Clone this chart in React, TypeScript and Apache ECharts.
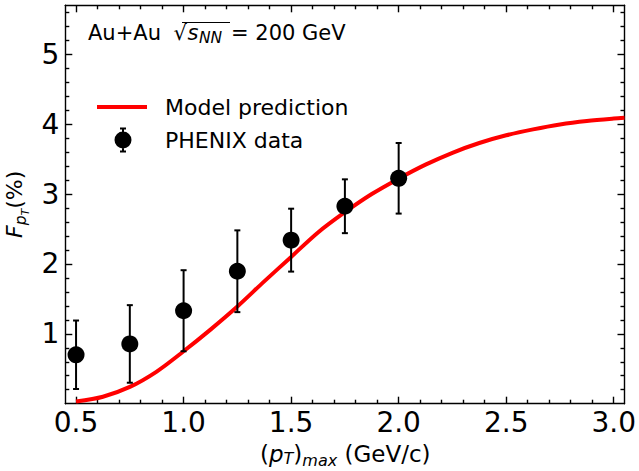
import React, { useEffect, useRef } from 'react';
import * as echarts from 'echarts';

// PHENIX data points
const dataX = [0.5, 0.75, 1.0, 1.25, 1.5, 1.75, 2.0];
const dataY = [0.70, 0.855, 1.33, 1.895, 2.34, 2.825, 3.225];
const dataErr = [0.49, 0.555, 0.58, 0.585, 0.45, 0.385, 0.505];

// Model prediction curve
const modelX = [0.5, 0.625, 0.75, 0.875, 1.0, 1.125, 1.25, 1.375, 1.5, 1.625, 1.75, 1.875, 2.0, 2.125, 2.25, 2.375, 2.5, 2.625, 2.75, 2.875, 3.0, 3.05];
const modelY = [0.03, 0.10, 0.24, 0.46, 0.75, 1.06, 1.39, 1.75, 2.10, 2.45, 2.74, 3.00, 3.22, 3.42, 3.59, 3.73, 3.84, 3.925, 3.995, 4.045, 4.08, 4.09];

// Ticks
const xMajorTicks = [0.5, 1.0, 1.5, 2.0, 2.5, 3.0];
const xMinorTicks = [0.6, 0.7, 0.8, 0.9, 1.1, 1.2, 1.3, 1.4, 1.6, 1.7, 1.8, 1.9, 2.1, 2.2, 2.3, 2.4, 2.6, 2.7, 2.8, 2.9];
const yMajorTicks = [1, 2, 3, 4, 5];
const yMinorTicks = [0.2, 0.4, 0.6, 0.8, 1.2, 1.4, 1.6, 1.8, 2.2, 2.4, 2.6, 2.8, 3.2, 3.4, 3.6, 3.8, 4.2, 4.4, 4.6, 4.8, 5.2, 5.4, 5.6];

const X_MIN = 0.45, X_MAX = 3.05, Y_MIN = 0, Y_MAX = 5.7;

export default function App() {
  const ref = useRef<HTMLDivElement>(null);
  useEffect(() => {
    const el = ref.current!;
    const chart = echarts.init(el, null, { renderer: 'svg' });
    const FAM = 'DejaVu Sans';
    const cv = document.createElement('canvas').getContext('2d')!;
    const meas = (t: string, size: number, italic?: boolean) => {
      cv.font = `${italic ? 'italic ' : ''}${size}px "${FAM}"`;
      return cv.measureText(t).width;
    };
    const CENTRAL = 0.346;
    const txt = (t: string, x: number, base: number, size: number, italic = false) => ({
      type: 'text', x, y: base - CENTRAL * size, silent: true,
      style: { text: t, fontSize: size, fontFamily: FAM, fontStyle: italic ? 'italic' : 'normal', fill: '#000', align: 'left', verticalAlign: 'middle' },
    });
    type P = { t: string; size: number; base: number; italic?: boolean; after?: number };
    const chain = (pieces: P[], x0: number) => {
      let x = x0;
      const out: any[] = [];
      for (const p of pieces) {
        out.push(txt(p.t, x, p.base, p.size, p.italic));
        x += meas(p.t, p.size, p.italic) + (p.after || 0);
      }
      return out;
    };

    const axisLineStyle = { color: '#000', width: 1.4 };
    const mkX = (pos: string, major: boolean, labels: boolean) => ({
      type: 'value', gridIndex: 0, position: pos, min: X_MIN, max: X_MAX,
      axisLine: { show: major, onZero: false, lineStyle: axisLineStyle },
      axisTick: { show: true, inside: true, length: major ? 7 : 4, customValues: major ? xMajorTicks : xMinorTicks, lineStyle: axisLineStyle },
      axisLabel: labels
        ? { show: true, customValues: xMajorTicks, formatter: (v: number) => v.toFixed(1), fontSize: 28, fontFamily: FAM, color: '#000', margin: 5 }
        : { show: false },
      splitLine: { show: false },
    });
    const mkY = (pos: string, major: boolean, labels: boolean) => ({
      type: 'value', gridIndex: 0, position: pos, min: Y_MIN, max: Y_MAX,
      axisLine: { show: major, onZero: false, lineStyle: axisLineStyle },
      axisTick: { show: true, inside: true, length: major ? 7 : 4, customValues: major ? yMajorTicks : yMinorTicks, lineStyle: axisLineStyle },
      axisLabel: labels
        ? { show: true, customValues: yMajorTicks, formatter: (v: number) => String(Math.round(v)), fontSize: 28, fontFamily: FAM, color: '#000', margin: 6 }
        : { show: false },
      splitLine: { show: false },
    });

    const titleEls = [
      txt('Au+Au', 88, 40, 21),
      txt('\u221A', 173.5, 40, 21),
      { type: 'line', silent: true, shape: { x1: 182, y1: 22.5, x2: 230, y2: 22.5 }, style: { stroke: '#000', lineWidth: 1.2 } },
      ...chain([
        { t: 's', size: 21, base: 40, italic: true, after: 0.5 },
        { t: 'NN', size: 15.5, base: 43.3, italic: true },
      ], 187.5),
      txt('= 200 GeV', 231, 40, 21),
    ];

    const xLabelEls = chain([
      { t: '(', size: 23, base: 461.7 },
      { t: 'p', size: 23, base: 461.7, italic: true },
      { t: 'T', size: 16, base: 464, italic: true },
      { t: ')', size: 23, base: 461.7 },
      { t: 'max', size: 16, base: 466, italic: true },
      { t: ' (GeV/c)', size: 23, base: 461.7 },
    ], 260);

    const yLabelChildren = chain([
      { t: 'F', size: 22, base: 0, italic: true },
      { t: 'p', size: 15.5, base: 4.5, italic: true },
      { t: 'T', size: 11, base: 7.5, italic: true },
      { t: '(%)', size: 22, base: 0 },
    ], 0);

    const phenixIcon = 'path://M0,0L0,0M63,26L63,26' +
      'M17.5,13A8.5,8.5,0,1,1,34.5,13A8.5,8.5,0,1,1,17.5,13Z' +
      'M25,0.5L27,0.5L27,25.5L25,25.5Z' +
      'M23,0.5L29,0.5L29,2.5L23,2.5Z' +
      'M23,23.5L29,23.5L29,25.5L23,25.5Z';
    const modelIcon = 'path://M0,0L0,0M63,26L63,26M0,11L50,11L50,15L0,15Z';

    const option: any = {
      animation: false,
      backgroundColor: '#fff',
      grid: { left: 65.3, right: 12, top: 5.3, bottom: 67.3, containLabel: false },
      xAxis: [mkX('bottom', true, true), mkX('bottom', false, false), mkX('top', true, false), mkX('top', false, false)],
      yAxis: [mkY('left', true, true), mkY('left', false, false), mkY('right', true, false), mkY('right', false, false)],
      legend: {
        orient: 'vertical', left: 97, top: 94, padding: 0, itemGap: 7, itemWidth: 63, itemHeight: 26,
        selectedMode: false,
        textStyle: { fontSize: 22, fontFamily: FAM, color: '#000' },
        itemStyle: { borderWidth: 0 },
        data: [
          { name: 'Model prediction', icon: modelIcon, itemStyle: { color: '#ff0000', borderWidth: 0, opacity: 1 } },
          { name: 'PHENIX data', icon: phenixIcon, itemStyle: { color: '#000', borderWidth: 0, opacity: 1 } },
        ],
      },
      series: [
        {
          name: 'Model prediction', type: 'line', xAxisIndex: 0, yAxisIndex: 0,
          data: modelX.map((x, i) => [x, modelY[i]]),
          showSymbol: false, symbol: 'none', smooth: 0.3,
          lineStyle: { color: '#ff0000', width: 4 }, itemStyle: { color: '#ff0000' }, z: 2,
        },
        {
          name: 'PHENIX error', type: 'custom', xAxisIndex: 0, yAxisIndex: 0,
          data: dataX.map((x, i) => [x, dataY[i] - dataErr[i], dataY[i] + dataErr[i]]),
          encode: { x: 0, y: [1, 2] },
          z: 3,
          renderItem: (params: any, api: any) => {
            const x = api.value(0);
            const top = api.coord([x, api.value(2)]);
            const bot = api.coord([x, api.value(1)]);
            const st = { stroke: '#000', lineWidth: 2 };
            return {
              type: 'group',
              children: [
                { type: 'line', shape: { x1: top[0], y1: top[1], x2: bot[0], y2: bot[1] }, style: st },
                { type: 'line', shape: { x1: top[0] - 3, y1: top[1], x2: top[0] + 3, y2: top[1] }, style: st },
                { type: 'line', shape: { x1: bot[0] - 3, y1: bot[1], x2: bot[0] + 3, y2: bot[1] }, style: st },
              ],
            };
          },
        },
        {
          name: 'PHENIX data', type: 'scatter', xAxisIndex: 0, yAxisIndex: 0,
          data: dataX.map((x, i) => [x, dataY[i]]),
          symbol: 'circle', symbolSize: 17, itemStyle: { color: '#000', opacity: 1 }, z: 4,
        },
      ],
      graphic: [
        ...titleEls,
        ...xLabelEls,
        { type: 'group', x: 21.7, y: 238, rotation: Math.PI / 2, silent: true, children: yLabelChildren },
      ],
    };
    chart.setOption(option);
    return () => chart.dispose();
  }, []);
  return <div ref={ref} style={{ position: 'fixed', left: 0, top: 0, width: 639, height: 471 }} />;
}
